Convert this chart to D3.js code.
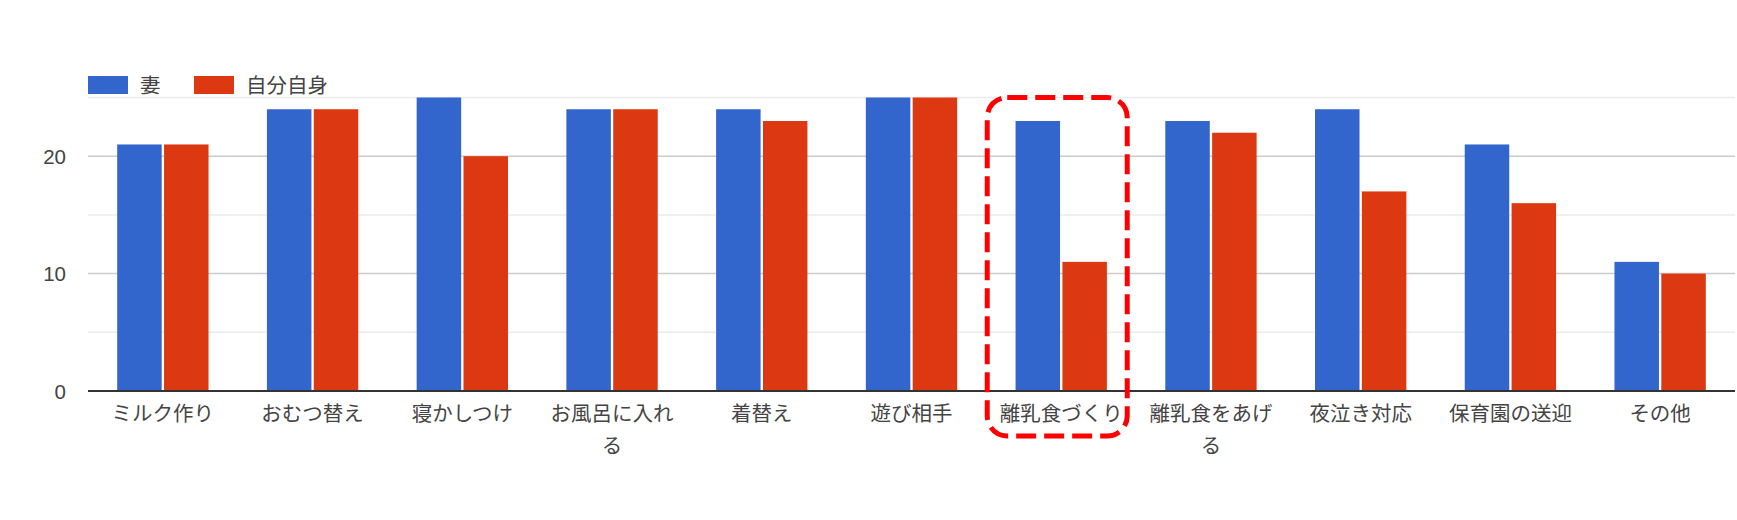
<!DOCTYPE html>
<html lang="ja">
<head>
<meta charset="utf-8">
<title>妻 / 自分自身</title>
<script src="https://cdn.jsdelivr.net/npm/d3@7"></script>
<style>
  body { margin: 0; background: #fff; }
  text { font-family: "Liberation Sans", Arial, "Noto Sans CJK JP", sans-serif; fill: #444; }
</style>
</head>
<body>
<script>
// data
var categories = ["ミルク作り", "おむつ替え", "寝かしつけ", "お風呂に入れる", "着替え", "遊び相手",
                  "離乳食づくり", "離乳食をあげる", "夜泣き対応", "保育園の送迎", "その他"];
var seriesNames = ["妻", "自分自身"];
var wifeValues = [21, 24, 25, 24, 24, 25, 23, 23, 24, 21, 11];
var selfValues = [21, 24, 20, 24, 23, 25, 11, 22, 17, 16, 10];
var yTicks = [0, 10, 20];
var gridValues = [5, 10, 15, 20, 25];
var highlighted = "離乳食づくり";

var colors = ["#3366cc", "#dc3912"];

var w = 1737, h = 520;
var plotLeft = 88, plotRight = 1735, plotTop = 97.5, plotBottom = 391;

var svg = d3.select("body").append("svg").attr("width", w).attr("height", h);

var x0 = d3.scaleBand().domain(categories).range([plotLeft, plotRight])
  .paddingInner(0.39).paddingOuter(0.195);
var x1 = d3.scaleBand().domain(seriesNames).range([0, x0.bandwidth()]).paddingInner(0.05);
var y = d3.scaleLinear().domain([0, 25]).range([plotBottom, plotTop]);

// gridlines
svg.append("g").selectAll("line").data(gridValues).enter().append("line")
  .attr("x1", plotLeft).attr("x2", plotRight)
  .attr("y1", function(d) { return y(d); }).attr("y2", function(d) { return y(d); })
  .attr("stroke", function(d) { return d % 10 === 0 ? "#cccccc" : "#ebebeb"; })
  .attr("stroke-width", 1.5);

// y labels
svg.append("g").selectAll("text").data(yTicks).enter().append("text")
  .attr("x", 66).attr("y", function(d) { return y(d) + 7.5; })
  .attr("text-anchor", "end").attr("font-size", "20.5px")
  .text(function(d) { return d; });

// bars
var rows = categories.map(function(c, i) { return { cat: c, vals: [wifeValues[i], selfValues[i]] }; });
var groups = svg.append("g").selectAll("g").data(rows).enter().append("g")
  .attr("transform", function(d) { return "translate(" + x0(d.cat) + ",0)"; });
groups.selectAll("rect").data(function(d) {
    return d.vals.map(function(v, j) { return { s: seriesNames[j], v: v, j: j }; });
  }).enter().append("rect")
  .attr("x", function(d) { return x1(d.s); })
  .attr("y", function(d) { return y(d.v); })
  .attr("width", x1.bandwidth())
  .attr("height", function(d) { return y(0) - y(d.v); })
  .attr("fill", function(d) { return colors[d.j]; });

// baseline
svg.append("line").attr("x1", plotLeft).attr("x2", plotRight)
  .attr("y1", y(0)).attr("y2", y(0))
  .attr("stroke", "#333").attr("stroke-width", 2);

// x labels, wrapped
var maxW = 140;
svg.append("g").selectAll("text").data(categories).enter().append("text")
  .attr("text-anchor", "middle").attr("font-size", "20.5px")
  .each(function(d) {
    var t = d3.select(this), cx = x0(d) + x0.bandwidth() / 2;
    var chars = Array.from(d), lines = [], cur = "";
    var probe = t.append("tspan");
    chars.forEach(function(ch) {
      probe.text(cur + ch);
      if (cur && probe.node().getComputedTextLength() > maxW) { lines.push(cur); cur = ch; }
      else cur += ch;
    });
    lines.push(cur);
    probe.remove();
    lines.forEach(function(l, i) {
      t.append("tspan").attr("x", cx).attr("y", 421 + i * 32).text(l);
    });
  });

// legend
var legend = svg.append("g");
var legX = [88, 194];
seriesNames.forEach(function(s, i) {
  legend.append("rect").attr("x", legX[i]).attr("y", 76).attr("width", 40).attr("height", 18)
    .attr("fill", colors[i]);
  legend.append("text").attr("x", legX[i] + 52).attr("y", 92.5)
    .attr("font-size", "20.5px").text(s);
});

// highlight box
var hc = x0(highlighted) + x0.bandwidth() / 2;
svg.append("rect")
  .attr("x", hc - 74).attr("y", y(25))
  .attr("width", 140).attr("height", y(0) - y(25) + 45)
  .attr("rx", 20).attr("ry", 20)
  .attr("fill", "none").attr("stroke", "#ff0000").attr("stroke-width", 5)
  .attr("stroke-dasharray", "20,8");
</script>
</body>
</html>
